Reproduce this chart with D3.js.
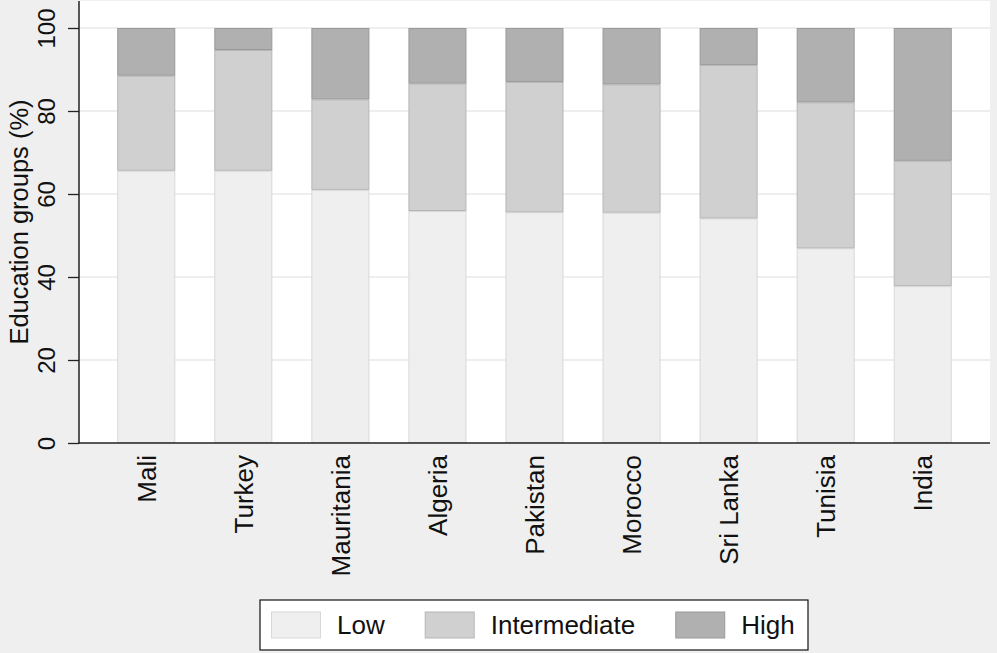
<!DOCTYPE html>
<html><head><meta charset="utf-8">
<script src="https://cdn.jsdelivr.net/npm/d3@7"></script>
<style>
html,body{margin:0;padding:0;background:#efefef;}
svg{display:block;font-family:"Liberation Sans",Arial,Helvetica,sans-serif;}
</style></head>
<body><svg id="c" width="997" height="653"></svg>
<script>
const countries = ["Mali","Turkey","Mauritania","Algeria","Pakistan","Morocco","Sri Lanka","Tunisia","India"];
const low          = [65.6, 65.6, 61.0, 55.9, 55.6, 55.5, 54.1, 46.9, 37.8];
const intermediate = [22.9, 29.1, 21.8, 30.7, 31.4, 30.9, 37.0, 35.2, 30.2];
const high         = [11.5,  5.3, 17.2, 13.4, 13.0, 13.6,  8.9, 17.9, 32.0];
const seriesNames = ["Low","Intermediate","High"];
const yTicks = [0,20,40,60,80,100];
const yTitle = "Education groups (%)";

const fills = ["#efefef","#d0d0d0","#b0b0b0"];
const strokes = ["#d8d8d8","#b6b6b6","#9a9a9a"];

const svg = d3.select("#c");
const L = 79, R = 990, T = 1, B = 443;

svg.append("rect").attr("x",0).attr("y",0).attr("width",997).attr("height",653).attr("fill","#efefef");
svg.append("rect").attr("x",L).attr("y",T).attr("width",R-L).attr("height",B-T).attr("fill","#ffffff");

const y = d3.scaleLinear().domain([0,100]).range([443,28]);
const x = d3.scaleBand().domain(countries).range([L,R]).paddingInner(0.402).paddingOuter(0.394);

// gridlines
svg.append("g").selectAll("line").data(yTicks.filter(d=>d>0)).join("line")
  .attr("x1",L).attr("x2",R).attr("y1",d=>y(d)).attr("y2",d=>y(d))
  .attr("stroke","#e8e8e8").attr("stroke-width",1.5);

// stacked data
const rows = countries.map((c,i)=>({country:c, Low:low[i], Intermediate:intermediate[i], High:high[i]}));
const stack = d3.stack().keys(seriesNames)(rows);

svg.append("g").selectAll("g").data(stack).join("g")
  .attr("fill",(d,i)=>fills[i]).attr("stroke",(d,i)=>strokes[i]).attr("stroke-width",1)
  .selectAll("rect").data(d=>d).join("rect")
  .attr("x",d=>x(d.data.country)+0.5)
  .attr("width",x.bandwidth()-1)
  .attr("y",d=>y(d[1])+0.5)
  .attr("height",d=>y(d[0])-y(d[1])-1);

// y axis
const yAxis = d3.axisLeft(y).tickValues(yTicks).tickSize(11).tickPadding(0).tickFormat(d3.format("d"));
const ga = svg.append("g").attr("transform",`translate(${L},0)`).call(yAxis);
ga.select(".domain").remove();
ga.selectAll(".tick line").attr("stroke","#222").attr("stroke-width",1.3);
ga.selectAll(".tick text").attr("x",null).attr("dy",null)
  .attr("transform","translate(-24,0) rotate(-90)")
  .attr("text-anchor","middle").attr("fill","#111")
  .style("font-size","24px").style("font-family","'Liberation Sans',Arial,sans-serif");
svg.append("line").attr("x1",L).attr("x2",L).attr("y1",T).attr("y2",B+0.5).attr("stroke","#222").attr("stroke-width",1.5);

// x axis
const xAxis = d3.axisBottom(x).tickSize(0).tickPadding(0);
const gx = svg.append("g").attr("transform",`translate(0,${B})`).call(xAxis);
gx.select(".domain").remove();
gx.selectAll(".tick text").attr("y",null).attr("dy",null)
  .attr("transform","translate(9.5,12) rotate(-90)")
  .attr("text-anchor","end").attr("fill","#111")
  .style("font-size","26px").style("font-family","'Liberation Sans',Arial,sans-serif");
svg.append("line").attr("x1",L-0.5).attr("x2",R).attr("y1",B).attr("y2",B).attr("stroke","#222").attr("stroke-width",1.5);

// y title
svg.append("text").attr("transform",`translate(28,222) rotate(-90)`)
  .attr("text-anchor","middle").attr("fill","#111").style("font-size","25.5px").text(yTitle);

// legend
const lg = svg.append("g");
lg.append("rect").attr("x",260).attr("y",600).attr("width",548).attr("height",50)
  .attr("fill","#fff").attr("stroke","#111").attr("stroke-width",1.2);
let cx = 271;
seriesNames.forEach((name,i)=>{
  lg.append("rect").attr("x",cx+0.5).attr("y",612).attr("width",49).attr("height",26)
    .attr("fill",fills[i]).attr("stroke",strokes[i]);
  const t = lg.append("text").attr("x",cx+66).attr("y",634).attr("fill","#111")
    .style("font-size","26px").text(name);
  const w = t.node().getComputedTextLength();
  cx = cx + 66 + w + 40;
});
</script></body></html>
